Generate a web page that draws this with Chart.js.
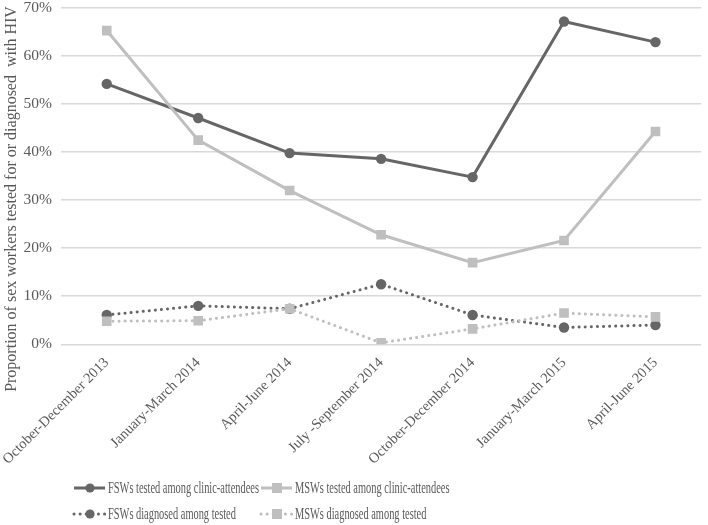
<!DOCTYPE html>
<html>
<head>
<meta charset="utf-8">
<script src="https://cdn.jsdelivr.net/npm/chart.js@4"></script>
<style>
  html, body { margin: 0; padding: 0; background: #fff; }
  #wrap { width: 708px; height: 525px; }
</style>
</head>
<body>
<div id="wrap"><canvas id="c" width="708" height="525"></canvas></div>
<script>
// quarters on the x axis
const periods = [
  'October-December 2013', 'January-March 2014', 'April-June 2014',
  'July -September 2014', 'October-December 2014', 'January-March 2015', 'April-June 2015'
];
// percentages
const fswTested = [54.2, 47.1, 39.8, 38.6, 34.8, 67.2, 62.9];
const mswTested = [65.3, 42.5, 32.0, 22.8, 17.0, 21.6, 44.3];
const fswDiagnosed = [6.1, 8.0, 7.4, 12.5, 6.1, 3.5, 4.0];
const mswDiagnosed = [4.8, 4.9, 7.4, 0.3, 3.2, 6.5, 5.7];
const yTicks = [0, 10, 20, 30, 40, 50, 60, 70];
const yTitle = 'Proportion of sex workers tested for or diagnosed  with HIV';

const DARK = '#666666';
const LIGHT = '#bfbfbf';
const TEXT = '#595959';
const FONT = "'Liberation Serif', 'DejaVu Serif', serif";

function series(label, data, color, dotted, square, order) {
  return {
    label: label,
    data: data,
    order: order,
    borderColor: color,
    backgroundColor: color,
    borderWidth: 3,
    borderDash: dotted ? [0.1, 6] : [],
    borderCapStyle: dotted ? 'round' : 'butt',
    pointStyle: square ? 'rect' : 'circle',
    pointRadius: square ? 6.8 : 5.2,
    pointBorderWidth: 0,
    tension: 0
  };
}

// y title drawn by hand so it can sit lower than the plot centre, like the original
const yTitlePlugin = {
  id: 'yTitle',
  afterDraw(chart) {
    const ctx = chart.ctx;
    ctx.save();
    ctx.translate(12, 199);
    ctx.rotate(-Math.PI / 2);
    ctx.font = '16px ' + FONT;
    ctx.fillStyle = TEXT;
    ctx.textAlign = 'center';
    ctx.textBaseline = 'middle';
    ctx.fillText(yTitle, 0, 0);
    ctx.restore();
  }
};

// 2 x 2 legend grid with condensed text
const gridLegend = {
  id: 'gridLegend',
  afterDraw(chart) {
    const ctx = chart.ctx;
    const cols = [73, 260];
    const rows = [488, 514];
    ctx.save();
    ctx.font = '17px ' + FONT;
    const squeeze = 151 / ctx.measureText(chart.data.datasets[0].label).width;
    ctx.restore();
    chart.data.datasets.forEach((ds, i) => {
      const x = cols[i % 2];
      const y = rows[Math.floor(i / 2)];
      ctx.save();
      ctx.strokeStyle = ds.borderColor;
      ctx.fillStyle = ds.borderColor;
      ctx.lineWidth = 3;
      ctx.lineCap = ds.borderCapStyle;
      ctx.setLineDash(ds.borderDash);
      ctx.beginPath(); ctx.moveTo(x + 1, y); ctx.lineTo(x + 32, y); ctx.stroke();
      ctx.setLineDash([]);
      if (ds.pointStyle === 'rect') ctx.fillRect(x + 12, y - 5, 10, 10);
      else { ctx.beginPath(); ctx.arc(x + 17, y, 4.6, 0, Math.PI * 2); ctx.fill(); }
      ctx.translate(x + 35, y);
      ctx.scale(squeeze, 1);
      ctx.font = '17px ' + FONT;
      ctx.fillStyle = TEXT;
      ctx.textBaseline = 'middle';
      ctx.fillText(ds.label, 0, 1);
      ctx.restore();
    });
  }
};

new Chart(document.getElementById('c'), {
  type: 'line',
  data: {
    labels: periods,
    datasets: [
      series('FSWs tested among clinic-attendees', fswTested, DARK, false, false, 4),
      series('MSWs tested among clinic-attendees', mswTested, LIGHT, false, true, 3),
      series('FSWs diagnosed among tested', fswDiagnosed, DARK, true, false, 2),
      series('MSWs diagnosed among tested', mswDiagnosed, LIGHT, true, true, 1)
    ]
  },
  plugins: [yTitlePlugin, gridLegend],
  options: {
    responsive: false,
    animation: false,
    layout: { padding: { left: 0, right: 2, top: 8, bottom: 55 } },
    plugins: {
      tooltip: { enabled: false },
      legend: { display: false }
    },
    scales: {
      x: {
        offset: true,
        grid: { display: false },
        border: { display: false },
        ticks: {
          color: TEXT,
          font: { family: FONT, size: 14.5 },
          minRotation: 45,
          maxRotation: 45,
          autoSkip: false,
          padding: 2
        }
      },
      y: {
        min: 0,
        max: 70,
        afterBuildTicks(axis) { axis.ticks = yTicks.map(v => ({ value: v })); },
        afterFit(axis) { axis.paddingTop = 0; axis.paddingBottom = 0; },
        grid: { color: '#d9d9d9', lineWidth: 1.5, drawTicks: false },
        border: { display: false },
        ticks: {
          color: TEXT,
          font: { family: FONT, size: 15.5 },
          padding: 9,
          callback: v => v + '%'
        }
      }
    }
  }
});
</script>
</body>
</html>
